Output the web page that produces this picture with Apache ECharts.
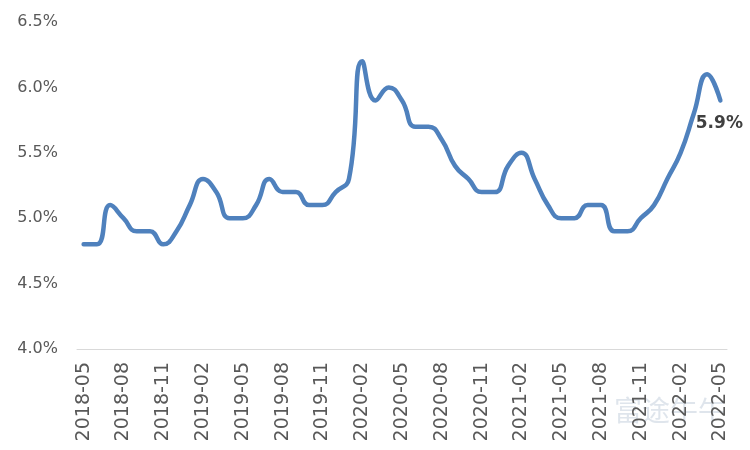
<!DOCTYPE html>
<html>
<head>
<meta charset="utf-8">
<script src="https://cdn.jsdelivr.net/npm/echarts@6/dist/echarts.min.js"></script>
<style>
  html, body { margin: 0; padding: 0; background: #fff; }
  #chart { width: 750px; height: 450px; }
</style>
</head>
<body>
<div id="chart"></div>
<script>
// monthly values, 2018-05 .. 2022-05
const months = [
  '2018-05','2018-06','2018-07','2018-08','2018-09','2018-10','2018-11','2018-12',
  '2019-01','2019-02','2019-03','2019-04','2019-05','2019-06','2019-07','2019-08',
  '2019-09','2019-10','2019-11','2019-12','2020-01','2020-02','2020-03','2020-04',
  '2020-05','2020-06','2020-07','2020-08','2020-09','2020-10','2020-11','2020-12',
  '2021-01','2021-02','2021-03','2021-04','2021-05','2021-06','2021-07','2021-08',
  '2021-09','2021-10','2021-11','2021-12','2022-01','2022-02','2022-03','2022-04',
  '2022-05'
];
const rate = [
  4.8, 4.8, 5.1, 5.0, 4.9, 4.9, 4.8, 4.9,
  5.1, 5.3, 5.2, 5.0, 5.0, 5.1, 5.3, 5.2,
  5.2, 5.1, 5.1, 5.2, 5.3, 6.2, 5.9, 6.0,
  5.9, 5.7, 5.7, 5.6, 5.4, 5.3, 5.2, 5.2,
  5.4, 5.5, 5.3, 5.1, 5.0, 5.0, 5.1, 5.1,
  4.9, 4.9, 5.0, 5.1, 5.3, 5.5, 5.8, 6.1,
  5.9
];
const yTicks = [4.0, 4.5, 5.0, 5.5, 6.0, 6.5];

const chart = echarts.init(document.getElementById('chart'));
const lastIdx = rate.length - 1;

chart.setOption({
  animation: false,
  grid: { left: 77, right: 23, top: 22, bottom: 101 },
  xAxis: {
    type: 'category',
    data: months,
    boundaryGap: true,
    axisLine: { lineStyle: { color: '#d9d9d9', width: 1 } },
    axisTick: { interval: 2, length: 5, lineStyle: { color: '#d9d9d9' } },
    axisLabel: {
      interval: 2,
      rotate: 90,
      margin: 13,
      color: '#595959',
      fontFamily: 'DejaVu Sans',
      fontSize: 19
    }
  },
  yAxis: {
    type: 'value',
    min: yTicks[0],
    max: yTicks[yTicks.length - 1],
    interval: 0.5,
    axisLine: { show: false },
    axisTick: { show: false },
    splitLine: { show: false },
    axisLabel: {
      margin: 19,
      color: '#595959',
      fontFamily: 'DejaVu Sans',
      fontSize: 16,
      formatter: v => v.toFixed(1) + '%'
    }
  },
  graphic: [{
    type: 'text',
    left: 614,
    top: 396,
    silent: true,
    style: {
      text: '富途牛牛',
      fontFamily: 'Noto Sans CJK SC',
      fontSize: 28,
      fill: 'rgba(185,198,212,0.45)'
    }
  }],
  series: [{
    type: 'line',
    data: rate.map((v, i) => i === lastIdx ? {
      value: v,
      label: {
        show: true,
        position: 'bottom',
        distance: 15,
        offset: [-1, 0],
        formatter: p => p.value.toFixed(1) + '%',
        color: '#404040',
        fontFamily: 'DejaVu Sans',
        fontWeight: 'bold',
        fontSize: 17
      }
    } : v),
    smooth: 0.5,
    showSymbol: true,
    symbol: 'circle',
    symbolSize: 0,
    lineStyle: { color: '#4f81bd', width: 4.5, cap: 'round' },
    itemStyle: { color: '#4f81bd' }
  }]
});
</script>
</body>
</html>
